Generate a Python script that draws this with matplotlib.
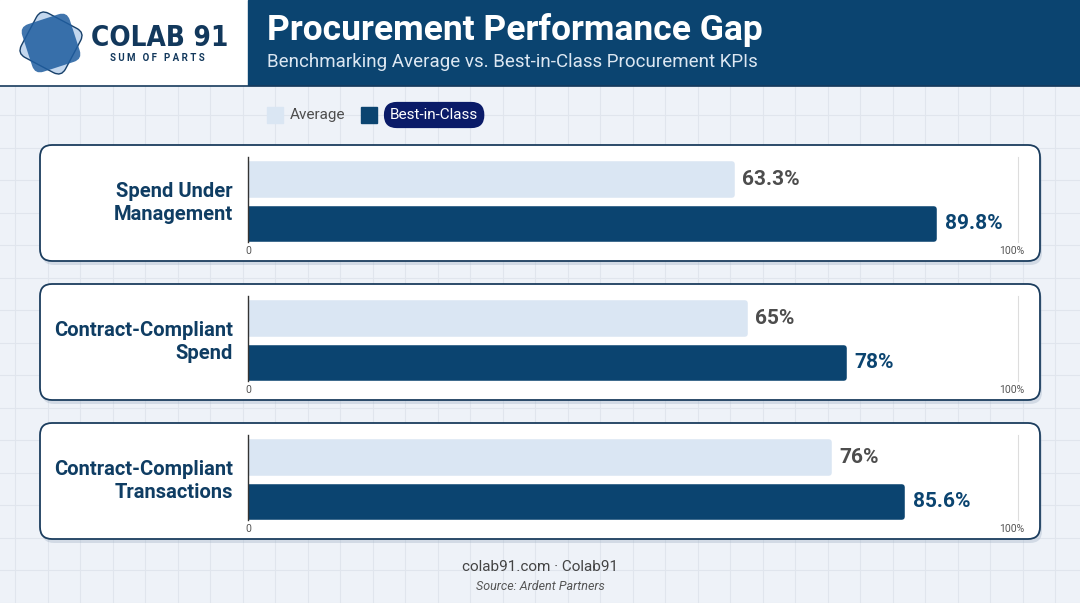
import numpy as np
import matplotlib.pyplot as plt
from matplotlib.patches import FancyBboxPatch, Rectangle
from matplotlib.transforms import Affine2D

plt.rcParams['font.family'] = ['Roboto', 'DejaVu Sans']

# -------------------------
# Data
# -------------------------

categories = ["Spend Under\nManagement", "Contract-Compliant\nSpend", "Contract-Compliant\nTransactions"]
average = [63.3, 65, 76]
best_in_class = [89.8, 78, 85.6]
series_names = ["Average", "Best-in-Class"]
tick_labels = ["0", "100%"]

NAVY = "#0b4470"
LIGHT = "#dae6f3"
TEXT_NAVY = "#0f3d63"
GRAY = "#4d4d4d"

W, H = 1080, 603
fig = plt.figure(figsize=(W / 100, H / 100), dpi=100)
fig.patch.set_facecolor("#eef2f8")

# background canvas in pixel coords
bg = fig.add_axes([0, 0, 1, 1], zorder=-1)
bg.set_xlim(0, W)
bg.set_ylim(H, 0)
bg.axis("off")
bg.set_facecolor("#eef2f8")

# grid pattern
for gx in np.arange(15, W, 32.5):
    bg.axvline(gx, color="#e0e5ed", lw=0.8, zorder=0)
for gy in np.arange(82.5, H, 32.5):
    bg.axhline(gy, color="#e0e5ed", lw=0.8, zorder=0)

# -------------------------
# Header
# -------------------------

bg.add_patch(Rectangle((0, 0), 248, 85, color="white", zorder=2))
bg.add_patch(Rectangle((248, 0), W - 248, 85, color=NAVY, zorder=2))
bg.plot([0, W], [85.5, 85.5], color="#163a5c", lw=1.2, zorder=3)

# logo
cx, cy = 51, 43
light_sq = FancyBboxPatch((cx - 25, cy - 25), 50, 50,
                          boxstyle="round,pad=0,rounding_size=9",
                          fc="#c3d7ee", ec="#17406a", lw=1.0, zorder=4,
                          transform=Affine2D().rotate_deg_around(cx, cy, 28) + bg.transData)
dark_sq = FancyBboxPatch((cx - 25, cy - 25), 50, 50,
                         boxstyle="round,pad=0,rounding_size=9",
                         fc="#1f5d9f", ec="none", alpha=0.85, zorder=5,
                         transform=Affine2D().rotate_deg_around(cx, cy, -18) + bg.transData)
bg.add_patch(light_sq)
bg.add_patch(dark_sq)

bg.text(160, 38, "COLAB 91", fontsize=20, fontweight="bold", color="#12385c",
        ha="center", va="center", family=["DejaVu Sans"], fontstretch="condensed", zorder=6)
bg.text(157, 58, "S U M   O F   P A R T S", fontsize=7, fontweight="bold",
        color="#12385c", ha="center", va="center", zorder=6)

bg.text(267, 30, "Procurement Performance Gap", fontsize=25.5, fontweight="bold",
        color="white", ha="left", va="center", zorder=6)
bg.text(267, 62, "Benchmarking Average vs. Best-in-Class Procurement KPIs", fontsize=13.5,
        color="#dce7f2", ha="left", va="center", zorder=6)

# -------------------------
# Legend
# -------------------------

bg.add_patch(Rectangle((267, 107), 16, 16, color=LIGHT, zorder=4))
bg.text(290, 115, series_names[0], fontsize=11, color=GRAY, ha="left", va="center", zorder=5)
bg.add_patch(Rectangle((361, 107), 16, 16, color=NAVY, zorder=4))
bg.text(390, 115, series_names[1], fontsize=11, color="white", ha="left", va="center", zorder=6,
        bbox=dict(boxstyle="round,pad=0.4,rounding_size=0.85", fc="#0a1b68", ec="none"))

# -------------------------
# Panels
# -------------------------

panel_top = 145
step = 139
for i in range(len(categories)):
    top = panel_top + step * i
    shadow = FancyBboxPatch((42, top + 4), 1000, 116, boxstyle="round,pad=0,rounding_size=12",
                            fc="#9fb0c4", ec="none", alpha=0.35, zorder=2)
    panel = FancyBboxPatch((40, top), 1000, 116, boxstyle="round,pad=0,rounding_size=12",
                           fc="white", ec="#1b3d5e", lw=1.3, zorder=3)
    bg.add_patch(shadow)
    bg.add_patch(panel)
    bg.text(233, top + 58, categories[i], fontsize=14.5, fontweight="bold", color=TEXT_NAVY,
            ha="right", va="center", linespacing=1.3, zorder=5)

    # bar axes from x=248 to x=1018
    ax_top = top + 12
    ax_bot = top + 97
    ax = fig.add_axes([248 / W, 1 - ax_bot / H, 770 / W, (ax_bot - ax_top) / H])
    ax.set_facecolor("none")
    vals = [average[i], best_in_class[i]]
    ax.barh([1, 0], vals, height=0.7, color=[LIGHT, NAVY], edgecolor=[LIGHT, NAVY],
            linewidth=4, joinstyle="round", zorder=2)
    ax.text(vals[0] + 1.4, 1, f"{vals[0]:g}%", fontsize=15, fontweight="bold", color=GRAY,
            va="center", ha="left")
    ax.text(vals[1] + 1.4, 0, f"{vals[1]:g}%", fontsize=15, fontweight="bold", color=NAVY,
            va="center", ha="left")
    ax.set_xlim(0, 100.8)
    ax.set_ylim(-0.41, 1.52)
    ax.set_xticks([0, 100])
    ax.set_xticklabels(tick_labels, fontsize=7.5, color="#555555")
    ax.get_xticklabels()[1].set_x(100.8)
    ax.tick_params(axis="x", length=0, pad=3)
    ax.set_yticks([])
    for s in ["top", "bottom"]:
        ax.spines[s].set_visible(False)
    ax.spines["right"].set_color("#dddddd")
    ax.spines["right"].set_linewidth(0.8)
    ax.spines["left"].set_color("#333333")
    ax.spines["left"].set_linewidth(1.0)
    ax.spines["left"].set_zorder(3)

# -------------------------
# Footer
# -------------------------

bg.text(540, 567, "colab91.com \u00b7 Colab91", fontsize=11, color="#444444",
        ha="center", va="center")
bg.text(540, 586, "Source: Ardent Partners", fontsize=9, color="#555555",
        ha="center", va="center", style="italic")

fig.savefig("out.png", dpi=100, facecolor=fig.get_facecolor())
